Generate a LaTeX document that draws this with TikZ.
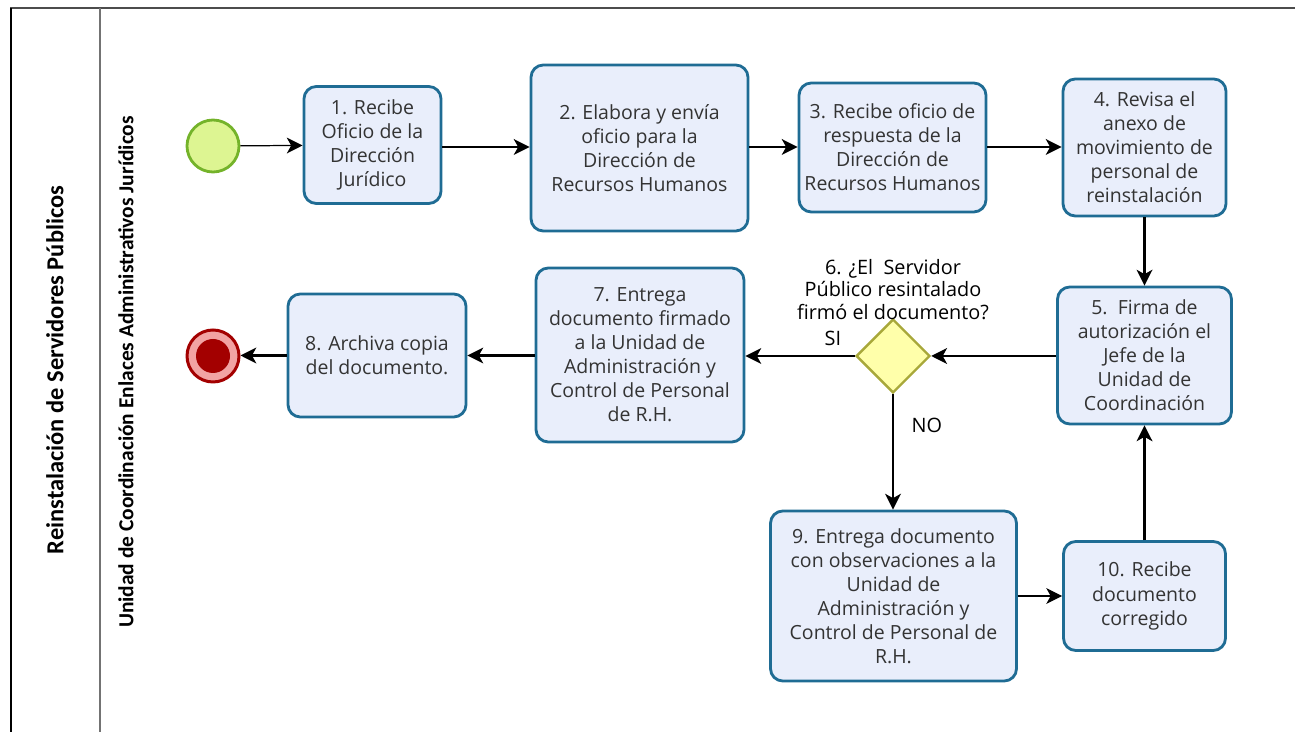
\documentclass[tikz,border=0pt]{standalone}
\usepackage{fontspec}
\setmainfont{Open Sans}
\newfontfamily\lanefont{Carlito}
\usetikzlibrary{shapes.geometric,arrows.meta}

\definecolor{taskfill}{HTML}{E9EEFB}
\definecolor{taskline}{HTML}{1F6C94}
\definecolor{startfill}{HTML}{DDF592}
\definecolor{startline}{HTML}{74B32A}
\definecolor{endred}{HTML}{A30000}
\definecolor{endpink}{HTML}{F2A3A3}
\definecolor{gatefill}{HTML}{FFFFAA}
\definecolor{gateline}{HTML}{A8A83A}
\definecolor{tasktext}{HTML}{333333}

\tikzset{
  task/.style 2 args={draw=taskline, fill=taskfill, line width=1.6pt,
    rounded corners=7pt, minimum width=#1*0.02cm, minimum height=#2*0.02cm,
    align=center, inner sep=0pt, text=tasktext,
    font=\fontsize{11.1}{13.7}\selectfont},
  startev/.style={circle, draw=startline, fill=startfill, line width=1.6pt,
    minimum size=52*0.02cm, inner sep=0pt},
  endev/.style={circle, draw=endred, fill=endpink, line width=1.7pt,
    minimum size=52*0.02cm, inner sep=0pt},
  gate/.style={diamond, aspect=1, draw=gateline, fill=gatefill, line width=1.4pt,
    minimum size=74*0.02cm, inner sep=0pt},
  flow/.style={line width=1.3pt, -{Stealth[length=9pt,width=9pt,inset=2.5pt]}},
  thinflow/.style={line width=0.7pt, -{Stealth[length=9pt,width=9pt,inset=2.5pt]}},
  lbl/.style={font=\fontsize{11.3}{12.8}\selectfont, align=center, inner sep=0pt},
  lanelbl/.style={rotate=90, inner sep=0pt}
}

\begin{document}
\begin{tikzpicture}[x=0.02cm, y=-0.02cm]
  \useasboundingbox (0,0) rectangle (1295,732);

  % pool and lane frame
  \draw[line width=1.6pt, draw=black!70] (10,8) -- (1295,8);
  \draw[line width=1.4pt, draw=black] (11,8) -- (11,732);
  \draw[line width=1.6pt, draw=black!55] (100,8) -- (100,732);

  \node[lanelbl, font=\lanefont\bfseries\fontsize{13.9}{15}\selectfont] (pool) at (55,370)
    {Reinstalación de Servidores Públicos};
  \node[lanelbl, font=\lanefont\bfseries\fontsize{12.2}{13}\selectfont] (lane) at (126,372)
    {Unidad de Coordinación Enlaces Administrativos Jurídicos};

  % events
  \node[startev] (start) at (213,146) {};
  \node[endev] (fin) at (213,356) {};
  \fill[endred] (fin.center) circle (17*0.02cm);

  % tasks, first row
  \node[task={137}{117}] (t1) at (372.5,145) {1. Recibe\\Oficio de la\\Dirección\\Jurídico};
  \node[task={217}{166}] (t2) at (639.5,148) {2. Elabora y envía\\oficio para la\\Dirección de\\Recursos Humanos};
  \node[task={187}{129}] (t3) at (892.5,147.5) {3. Recibe oficio de\\respuesta de la\\Dirección de\\Recursos Humanos};
  \node[task={163}{137}] (t4) at (1144.5,147.5) {4. Revisa el\\anexo de\\movimiento de\\personal de\\reinstalación};

  % tasks, second row
  \node[task={174}{137}] (t5) at (1144.5,355.5) {5.\ \ Firma de\\autorización el\\Jefe de la\\Unidad de\\Coordinación};
  \node[gate] (g6) at (893,356) {};
  \node[lbl, anchor=south] (q6) at (893,320) {6. ¿El\ \ Servidor\\Público resintalado\\firmó el documento?};
  \node[task={208}{174}] (t7) at (640,355) {7. Entrega\\documento firmado\\a la Unidad de\\Administración y\\Control de Personal\\de R.H.};
  \node[task={178}{123}] (t8) at (377,355.5) {8. Archiva copia\\del documento.};

  % tasks, third row
  \node[task={246}{170}] (t9) at (893.5,596) {9. Entrega documento\\con observaciones a la\\Unidad de\\Administración y\\Control de Personal de\\R.H.};
  \node[task={162}{109}] (t10) at (1144.5,596) {10. Recibe\\documento\\corregido};

  % sequence flows
  \draw[thinflow] (start) -- (t1);
  \draw[flow] (t1.east |- 0,147) -- (t2.west |- 0,147);
  \draw[flow] (t2.east |- 0,147) -- (t3.west |- 0,147);
  \draw[flow] (t3.east |- 0,147) -- (t4.west |- 0,147);
  \draw[flow] (t4.south) -- (t5.north);
  \draw[flow] (t5.west |- g6) -- (g6.east);
  \draw[flow] (g6.west) -- (t7.east |- g6) node[lbl, pos=0.2, above=5pt] (si) {SI};
  \draw[flow] (t7.west |- t8) -- (t8.east);
  \draw[flow] (t8.west) -- (fin.east |- t8);
  \draw[flow] (g6.south) -- (t9.north -| g6) node[lbl, pos=0.27, right=10pt] (no) {NO};
  \draw[thinflow] (t9.east) -- (t10.west);
  \draw[flow] (t10.north) -- (t5.south);
\end{tikzpicture}
\end{document}
